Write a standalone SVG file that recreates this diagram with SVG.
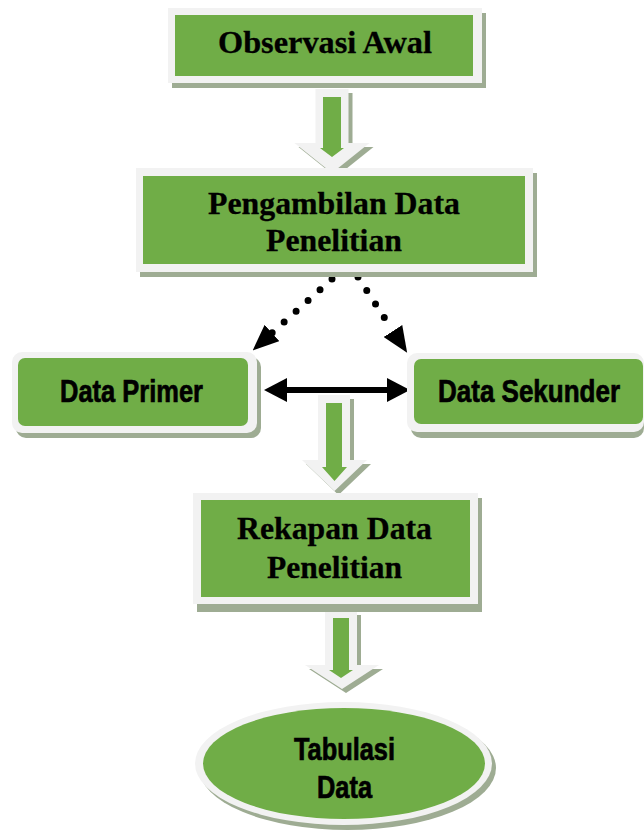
<svg xmlns="http://www.w3.org/2000/svg" width="644" height="836" viewBox="0 0 644 836">
<style>
.shadow{fill:#9eac93}
.rim{fill:#f2f2f2}
.green{fill:#70ad47}
.serif{font-family:"Liberation Serif","Times New Roman",serif;font-weight:bold;font-size:32px;fill:#000;text-anchor:middle;stroke:#000;stroke-width:0.3}
.sans{font-family:"Liberation Sans",Arial,sans-serif;font-weight:bold;font-size:31px;fill:#000;text-anchor:middle;stroke:#000;stroke-width:0.7}
.dots{fill:none;stroke:#000;stroke-width:7;stroke-linecap:round;stroke-dasharray:0 16.1}
</style>
<defs>
<marker id="dothead" markerUnits="userSpaceOnUse" markerWidth="26" markerHeight="22" viewBox="0 0 26 22" refX="0" refY="11" orient="auto">
<path d="M0,0 L26,11 L0,22 z" fill="#000"/>
</marker>
<marker id="bihead" markerUnits="userSpaceOnUse" markerWidth="23" markerHeight="24" viewBox="0 0 23 24" refX="0" refY="12" orient="auto-start-reverse">
<path d="M0,0 L23,12 L0,24 z" fill="#000"/>
</marker>
</defs>
<rect width="644" height="836" fill="#fff"/>

<g id="connectors">
<g id="arrow1">
<polygon class="shadow" transform="translate(4,4)" points="315.5,89 348.5,89 348.5,143 369.5,143 332,173 294.5,143 315.5,143"/>
<polygon class="rim" points="315.5,89 348.5,89 348.5,143 369.5,143 332,173 294.5,143 315.5,143"/>
<polygon class="green" points="323,97 341,97 341,148 344,148 332,157 320,148 323,148"/>
</g>
<path class="dots" d="M332,279 L272,333" marker-end="url(#dothead)"/>
<path class="dots" d="M358,277 L393,331" marker-end="url(#dothead)"/>
<line x1="287" y1="390" x2="387" y2="390" stroke="#000" stroke-width="6" marker-start="url(#bihead)" marker-end="url(#bihead)"/>
<g id="arrow2">
<polygon class="shadow" transform="translate(4,4)" points="318,395 350,395 350,460 367,460 334.5,491 302,460 318,460"/>
<polygon class="rim" points="318,395 350,395 350,460 367,460 334.5,491 302,460 318,460"/>
<polygon class="green" points="326,403 342,403 342,467 347,467 334.5,481 322,467 326,467"/>
</g>
<g id="arrow3">
<polygon class="shadow" transform="translate(4,4)" points="325,611 357,611 357,665 379,665 342,689 305,665 325,665"/>
<polygon class="rim" points="325,611 357,611 357,665 379,665 342,689 305,665 325,665"/>
<polygon class="green" points="333,618 349,618 349,670 353,670 341,678 329,670 333,670"/>
</g>
</g>

<g id="observasi">
<rect class="shadow" x="172" y="13" width="314" height="75"/>
<rect class="rim" x="168" y="8" width="314" height="75"/>
<rect class="green" x="175" y="15" width="298" height="61"/>
<text class="serif" x="325" y="53" textLength="214" lengthAdjust="spacingAndGlyphs">Observasi Awal</text>
</g>

<g id="pengambilan">
<rect class="shadow" x="140" y="173" width="397" height="104"/>
<rect class="rim" x="136" y="168" width="397" height="104"/>
<rect class="green" x="143" y="176" width="382" height="88"/>
<text class="serif" x="334" y="214" textLength="252" lengthAdjust="spacingAndGlyphs">Pengambilan Data</text>
<text class="serif" x="334" y="251" textLength="136" lengthAdjust="spacingAndGlyphs">Penelitian</text>
</g>

<g id="primer">
<rect class="shadow" x="16" y="357" width="245" height="81" rx="10"/>
<rect class="rim" x="12" y="352" width="245" height="81" rx="10"/>
<rect class="green" x="18" y="358" width="230" height="68" rx="7"/>
<text class="sans" x="131.5" y="402" textLength="143" lengthAdjust="spacingAndGlyphs">Data Primer</text>
</g>

<g id="sekunder">
<rect class="shadow" x="411" y="358" width="233" height="80" rx="10"/>
<rect class="rim" x="407" y="353" width="237" height="79" rx="10"/>
<rect class="green" x="414" y="359" width="229" height="65" rx="7"/>
<text class="sans" x="529" y="402" textLength="182" lengthAdjust="spacingAndGlyphs">Data Sekunder</text>
</g>

<g id="rekapan">
<rect class="shadow" x="197" y="498" width="285" height="114"/>
<rect class="rim" x="193" y="493" width="285" height="111"/>
<rect class="green" x="201" y="500" width="269" height="97"/>
<text class="serif" x="334.5" y="539" textLength="195" lengthAdjust="spacingAndGlyphs">Rekapan Data</text>
<text class="serif" x="334.5" y="578" textLength="135" lengthAdjust="spacingAndGlyphs">Penelitian</text>
</g>

<g id="tabulasi">
<ellipse class="shadow" cx="347.5" cy="768" rx="148.5" ry="62"/>
<ellipse class="rim" cx="343.5" cy="763.5" rx="148.5" ry="61.5"/>
<ellipse class="green" cx="344" cy="763.5" rx="141" ry="55.5"/>
<text class="sans" x="344.5" y="760" textLength="101" lengthAdjust="spacingAndGlyphs">Tabulasi</text>
<text class="sans" x="344.5" y="798" textLength="55" lengthAdjust="spacingAndGlyphs">Data</text>
</g>
</svg>
